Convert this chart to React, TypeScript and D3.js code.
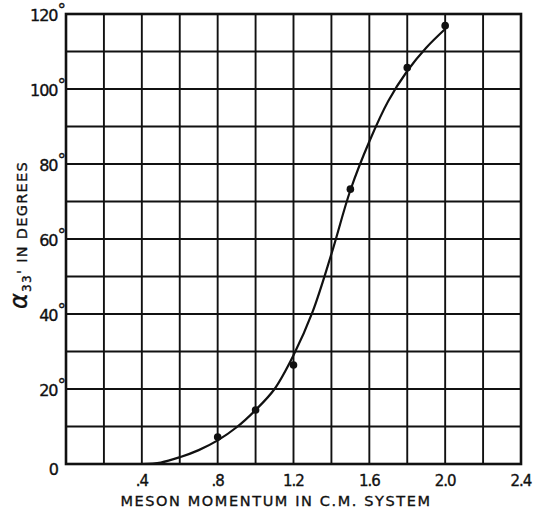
import * as d3 from "d3";
import { useEffect, useRef } from "react";

// measured points (meson momentum, phase shift in degrees)
const momentum = [0.8, 1.0, 1.2, 1.5, 1.8, 2.0];
const alpha33 = [7.2, 14.4, 26.4, 73.3, 105.7, 116.9];

// hand drawn fit curve
const curveMomentum = [0.4, 0.5, 0.6, 0.7, 0.8, 0.9, 1.0, 1.1, 1.2, 1.3, 1.4, 1.5, 1.6, 1.7, 1.8, 1.9, 2.0];
const curveAlpha = [0, 0.4, 1.8, 3.7, 6.3, 9.8, 14.4, 20.0, 29.0, 40.5, 56.0, 73.0, 86.0, 96.8, 104.8, 111.0, 116.0];

const xTickValues = [0.4, 0.8, 1.2, 1.6, 2.0, 2.4];
const xTickLabels = [".4", ".8", "1.2", "1.6", "2.0", "2.4"];
const yTickValues = [0, 20, 40, 60, 80, 100, 120];
const yTickLabels = ["0", "20", "40", "60", "80", "100", "120"];

const FONT = "'DejaVu Sans', 'Liberation Sans', sans-serif";
const INK = "#111";

const App = () => {
  const svgRef = useRef(null);
  const width = 536;
  const height = 520;

  useEffect(() => {
    const svg = d3.select(svgRef.current);
    svg.selectAll("*").remove();

    const margin = { top: 14, right: 15, bottom: 56, left: 66 };

    const x = d3
      .scaleLinear()
      .domain([0, 2.4])
      .range([margin.left, width - margin.right]);
    const y = d3
      .scaleLinear()
      .domain([0, 120])
      .range([height - margin.bottom, margin.top]);

    svg.append("rect").attr("width", width).attr("height", height).attr("fill", "#fff");

    // grid
    const grid = svg.append("g").attr("stroke", INK).attr("stroke-width", 1.9);
    d3.range(0, 2.41, 0.2).forEach((v) => {
      grid
        .append("line")
        .attr("x1", x(v))
        .attr("x2", x(v))
        .attr("y1", y(0))
        .attr("y2", y(120));
    });
    d3.range(0, 121, 10).forEach((v) => {
      grid
        .append("line")
        .attr("x1", x(0))
        .attr("x2", x(2.4))
        .attr("y1", y(v))
        .attr("y2", y(v));
    });

    svg
      .append("rect")
      .attr("x", x(0))
      .attr("y", y(120))
      .attr("width", x(2.4) - x(0))
      .attr("height", y(0) - y(120))
      .attr("fill", "none")
      .attr("stroke", INK)
      .attr("stroke-width", 2.6);

    const txt = (sel: any, size: number) =>
      sel
        .attr("font-family", FONT)
        .attr("font-size", size)
        .attr("fill", INK)
        .attr("stroke", INK)
        .attr("stroke-width", 0.35);

    // x tick labels
    svg
      .append("g")
      .selectAll("text")
      .data(xTickValues)
      .join("text")
      .attr("x", (d) => x(d))
      .attr("y", y(0) + 22)
      .attr("text-anchor", "middle")
      .attr("letter-spacing", -1)
      .call(txt, 15)
      .text((d, i) => xTickLabels[i]);

    // y tick labels with degree marks
    const yl = svg
      .append("g")
      .selectAll("text")
      .data(yTickValues)
      .join("text")
      .attr("x", (d) => x(0) - (d === 0 ? 8 : 1))
      .attr("y", (d) => y(d) + (d === 0 ? 11 : 7))
      .attr("text-anchor", "end")
      .attr("letter-spacing", -1)
      .call(txt, 16);
    yl.append("tspan").text((d, i) => yTickLabels[i]);
    yl.filter((d) => d !== 0)
      .append("tspan")
      .attr("font-size", 17)
      .attr("dy", -5)
      .text("°");

    // axis titles
    svg
      .append("text")
      .attr("x", 276)
      .attr("y", height - 14)
      .attr("text-anchor", "middle")
      .attr("letter-spacing", 1.6)
      .call(txt, 14.5)
      .text("MESON MOMENTUM IN C.M. SYSTEM");

    const yt = svg
      .append("text")
      .attr("transform", `translate(27, ${(y(0) + y(120)) / 2 - 4}) rotate(-90)`)
      .attr("text-anchor", "middle")
      .attr("letter-spacing", 1.3)
      .call(txt, 14.5);
    yt.append("tspan").attr("font-size", 24).attr("font-style", "italic").text("α");
    yt.append("tspan").attr("font-size", 12).attr("dy", 4).text("33");
    yt.append("tspan").attr("dy", -4).text("'  IN DEGREES");

    // fit curve
    const line = d3
      .line<number>()
      .x((d, i) => x(curveMomentum[i]))
      .y((d) => y(d))
      .curve(d3.curveCatmullRom);

    svg
      .append("path")
      .datum(curveAlpha)
      .attr("fill", "none")
      .attr("stroke", INK)
      .attr("stroke-width", 2.2)
      .attr("d", line);

    // data points
    svg
      .append("g")
      .selectAll("circle")
      .data(alpha33)
      .join("circle")
      .attr("cx", (d, i) => x(momentum[i]))
      .attr("cy", (d) => y(d))
      .attr("r", 3.8)
      .attr("fill", INK);
  }, []);

  return (
    <svg
      ref={svgRef}
      width={width}
      height={height}
      style={{ position: "absolute", left: 0, top: 0 }}
    />
  );
};

export default App;
